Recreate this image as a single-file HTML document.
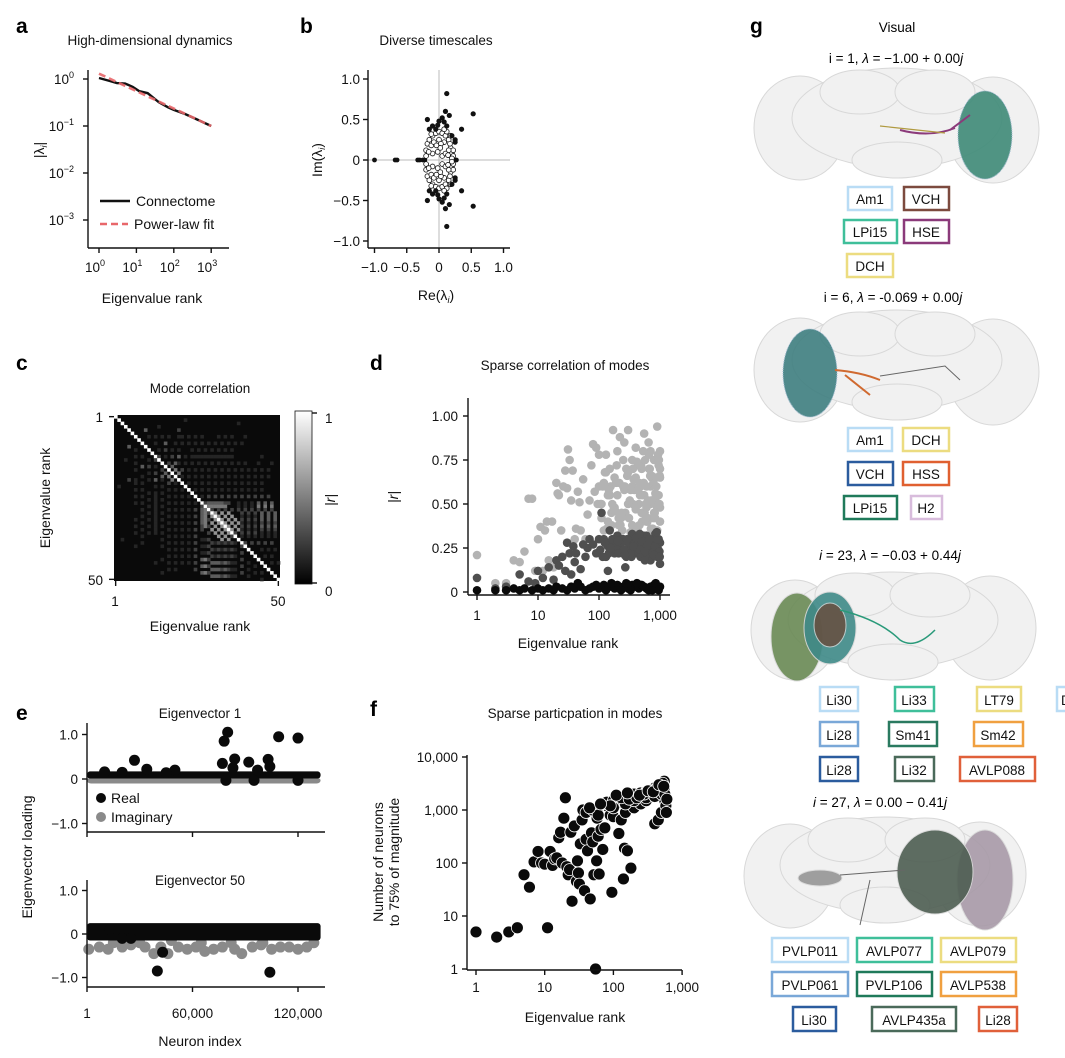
<!DOCTYPE html>
<html><head><meta charset="utf-8"><style>
html,body{margin:0;padding:0;background:#fff;}
svg{display:block;font-family:"Liberation Sans",Arial,sans-serif;}
</style></head><body>
<svg id="fig" width="1065" height="1058" viewBox="0 0 1065 1058" xmlns="http://www.w3.org/2000/svg">
<defs>
<linearGradient id="cbar" x1="0" y1="1" x2="0" y2="0"><stop offset="0" stop-color="#000"/><stop offset="1" stop-color="#fff"/></linearGradient>
</defs>
<g font-size="13.5">
<text x="750" y="33" font-size="21" font-weight="bold">g</text>
<text x="897" y="32" text-anchor="middle">Visual</text>
<text x="896" y="63" text-anchor="middle">i = 1, <tspan font-style="italic">λ</tspan> = −1.00 + 0.00<tspan font-style="italic">j</tspan></text>
<g fill="#f1f1f1" stroke="#d8d8d8" stroke-width="1">
<ellipse cx="800" cy="128" rx="46" ry="52"/><ellipse cx="993" cy="130" rx="46" ry="53"/>
<ellipse cx="897" cy="118" rx="105" ry="50"/><ellipse cx="860" cy="92" rx="40" ry="22"/><ellipse cx="935" cy="92" rx="40" ry="22"/>
<ellipse cx="897" cy="160" rx="45" ry="18"/>
<ellipse cx="985" cy="135" rx="27" ry="44" fill="#3f8b78" stroke="#9bb7cf" stroke-dasharray="1 1" opacity="0.9"/>
<path d="M900 130 Q930 138 955 128 M950 130 L970 115" stroke="#8b3a7a" stroke-width="2" fill="none"/>
<path d="M880 126 L945 133" stroke="#b09a40" stroke-width="1.2" fill="none"/>
</g>
<g fill="none" stroke-width="2.5">
<rect x="848" y="187" width="44" height="23" stroke="#b9dcf5"/><text x="870" y="204" text-anchor="middle" fill="#111" stroke="none">Am1</text>
<rect x="904" y="187" width="45" height="23" stroke="#7c4a3e"/><text x="926" y="204" text-anchor="middle" fill="#111" stroke="none">VCH</text>
<rect x="844" y="220" width="53" height="23" stroke="#3fbf9a"/><text x="870" y="237" text-anchor="middle" fill="#111" stroke="none">LPi15</text>
<rect x="904" y="220" width="45" height="23" stroke="#8b3a7a"/><text x="926" y="237" text-anchor="middle" fill="#111" stroke="none">HSE</text>
<rect x="847" y="254" width="46" height="23" stroke="#ecdc80"/><text x="870" y="271" text-anchor="middle" fill="#111" stroke="none">DCH</text>
</g>
<text x="893" y="302" text-anchor="middle">i = 6, <tspan font-style="italic">λ</tspan> = -0.069 + 0.00<tspan font-style="italic">j</tspan></text>
<g fill="#f1f1f1" stroke="#d8d8d8" stroke-width="1">
<ellipse cx="800" cy="370" rx="46" ry="52"/><ellipse cx="993" cy="372" rx="46" ry="53"/>
<ellipse cx="897" cy="360" rx="105" ry="50"/><ellipse cx="860" cy="334" rx="40" ry="22"/><ellipse cx="935" cy="334" rx="40" ry="22"/>
<ellipse cx="897" cy="402" rx="45" ry="18"/>
<ellipse cx="810" cy="373" rx="27" ry="44" fill="#3f7f80" stroke="#9bb7cf" stroke-dasharray="1 1" opacity="0.9"/>
<path d="M835 370 Q860 372 880 380 M845 375 L870 395" stroke="#d06a30" stroke-width="2" fill="none"/>
<path d="M880 376 L945 366 L960 380" stroke="#666" stroke-width="1" fill="none"/>
</g>
<g fill="none" stroke-width="2.5">
<rect x="848" y="428" width="44" height="23" stroke="#b9dcf5"/><text x="870" y="445" text-anchor="middle" fill="#111" stroke="none">Am1</text>
<rect x="903" y="428" width="46" height="23" stroke="#ecdc80"/><text x="926" y="445" text-anchor="middle" fill="#111" stroke="none">DCH</text>
<rect x="848" y="462" width="45" height="23" stroke="#2b5c9e"/><text x="870" y="479" text-anchor="middle" fill="#111" stroke="none">VCH</text>
<rect x="903" y="462" width="46" height="23" stroke="#e06030"/><text x="926" y="479" text-anchor="middle" fill="#111" stroke="none">HSS</text>
<rect x="844" y="496" width="53" height="23" stroke="#1f7a5a"/><text x="870" y="513" text-anchor="middle" fill="#111" stroke="none">LPi15</text>
<rect x="911" y="496" width="31" height="23" stroke="#d8bcdc"/><text x="926" y="513" text-anchor="middle" fill="#111" stroke="none">H2</text>
</g>
<text x="890" y="560" text-anchor="middle"><tspan font-style="italic">i</tspan> = 23, <tspan font-style="italic">λ</tspan> = −0.03 + 0.44<tspan font-style="italic">j</tspan></text>
<g fill="#f1f1f1" stroke="#d8d8d8" stroke-width="1">
<ellipse cx="795" cy="630" rx="44" ry="50"/><ellipse cx="990" cy="628" rx="46" ry="52"/>
<ellipse cx="893" cy="620" rx="105" ry="48"/><ellipse cx="855" cy="595" rx="40" ry="22"/><ellipse cx="930" cy="595" rx="40" ry="22"/>
<ellipse cx="893" cy="662" rx="45" ry="18"/>
<ellipse cx="797" cy="637" rx="26" ry="44" fill="#6a8a55" opacity="0.9"/>
<ellipse cx="830" cy="628" rx="26" ry="36" fill="#3f8a88" opacity="0.9"/>
<ellipse cx="830" cy="625" rx="16" ry="22" fill="#6a4a3a" opacity="0.8"/>
<path d="M840 610 Q880 620 900 640 Q915 650 935 630" stroke="#2a9a7a" stroke-width="1.5" fill="none"/>
</g>
<g fill="none" stroke-width="2.5">
<rect x="820" y="687" width="38" height="24" stroke="#b9dcf5"/><text x="839" y="705" text-anchor="middle" fill="#111" stroke="none">Li30</text>
<rect x="895" y="687" width="39" height="24" stroke="#3fbf9a"/><text x="914" y="705" text-anchor="middle" fill="#111" stroke="none">Li33</text>
<rect x="977" y="687" width="44" height="24" stroke="#ecdc80"/><text x="999" y="705" text-anchor="middle" fill="#111" stroke="none">LT79</text>
<rect x="1057" y="687" width="20" height="24" stroke="#b9dcf5"/><text x="1061" y="705" fill="#111" stroke="none">D</text>
<rect x="820" y="722" width="38" height="24" stroke="#7aa8d8"/><text x="839" y="740" text-anchor="middle" fill="#111" stroke="none">Li28</text>
<rect x="889" y="722" width="48" height="24" stroke="#2a7a60"/><text x="913" y="740" text-anchor="middle" fill="#111" stroke="none">Sm41</text>
<rect x="974" y="722" width="49" height="24" stroke="#f0a040"/><text x="998" y="740" text-anchor="middle" fill="#111" stroke="none">Sm42</text>
<rect x="820" y="757" width="38" height="24" stroke="#2b5c9e"/><text x="839" y="775" text-anchor="middle" fill="#111" stroke="none">Li28</text>
<rect x="895" y="757" width="39" height="24" stroke="#4a6a5a"/><text x="914" y="775" text-anchor="middle" fill="#111" stroke="none">Li32</text>
<rect x="960" y="757" width="75" height="24" stroke="#e0603a"/><text x="997" y="775" text-anchor="middle" fill="#111" stroke="none">AVLP088</text>
</g>
<text x="880" y="807" text-anchor="middle"><tspan font-style="italic">i</tspan> = 27, <tspan font-style="italic">λ</tspan> = 0.00 − 0.41<tspan font-style="italic">j</tspan></text>
<g fill="#f1f1f1" stroke="#d8d8d8" stroke-width="1">
<ellipse cx="790" cy="876" rx="46" ry="52"/><ellipse cx="980" cy="874" rx="46" ry="52"/>
<ellipse cx="885" cy="865" rx="105" ry="48"/><ellipse cx="848" cy="840" rx="40" ry="22"/><ellipse cx="925" cy="840" rx="40" ry="22"/>
<ellipse cx="885" cy="905" rx="45" ry="18"/>
<ellipse cx="985" cy="880" rx="28" ry="50" fill="#a89aa8" opacity="0.9"/>
<ellipse cx="935" cy="872" rx="38" ry="42" fill="#4e5e52" opacity="0.9"/>
<ellipse cx="820" cy="878" rx="22" ry="8" fill="#8a8a8a" opacity="0.8"/>
<path d="M840 875 L905 870 M870 880 L860 925" stroke="#666" stroke-width="1" fill="none"/>
</g>
<g fill="none" stroke-width="2.5">
<rect x="772" y="938" width="76" height="24" stroke="#b9dcf5"/><text x="810" y="956" text-anchor="middle" fill="#111" stroke="none">PVLP011</text>
<rect x="857" y="938" width="75" height="24" stroke="#3fbf9a"/><text x="894" y="956" text-anchor="middle" fill="#111" stroke="none">AVLP077</text>
<rect x="941" y="938" width="75" height="24" stroke="#ecdc80"/><text x="978" y="956" text-anchor="middle" fill="#111" stroke="none">AVLP079</text>
<rect x="772" y="972" width="76" height="24" stroke="#7aa8d8"/><text x="810" y="990" text-anchor="middle" fill="#111" stroke="none">PVLP061</text>
<rect x="857" y="972" width="75" height="24" stroke="#1f7a5a"/><text x="894" y="990" text-anchor="middle" fill="#111" stroke="none">PVLP106</text>
<rect x="941" y="972" width="75" height="24" stroke="#f0a040"/><text x="978" y="990" text-anchor="middle" fill="#111" stroke="none">AVLP538</text>
<rect x="793" y="1007" width="43" height="24" stroke="#2b5c9e"/><text x="814" y="1025" text-anchor="middle" fill="#111" stroke="none">Li30</text>
<rect x="872" y="1007" width="84" height="24" stroke="#4a6a5a"/><text x="914" y="1025" text-anchor="middle" fill="#111" stroke="none">AVLP435a</text>
<rect x="979" y="1007" width="38" height="24" stroke="#e0603a"/><text x="998" y="1025" text-anchor="middle" fill="#111" stroke="none">Li28</text>
</g>
</g>
</svg>
<script>
// ---------- DATA ----------
const aRank = [1, 2, 3, 5, 8, 12, 20, 40, 70, 100, 200, 400, 1000];
const aValue = [1.05, 0.9, 0.82, 0.8, 0.68, 0.55, 0.5, 0.32, 0.25, 0.22, 0.18, 0.14, 0.1];
const aFitRank = [1, 1000];
const aFitValue = [1.3, 0.1];
const aYTickExp = [0, -1, -2, -3];
const aXTickExp = [0, 1, 2, 3];
const bOutRe = [0.12, 0.1, 0.16, 0.53, -0.18, 0.05, 0.0, 0.08, -0.1, -0.02, 0.12, 0.35, 0.25, 0.25, -0.15, 0.2, -0.05];
const bOutIm = [0.82, 0.6, 0.55, 0.57, 0.5, 0.52, 0.48, 0.47, 0.42, 0.43, 0.42, 0.38, 0.25, 0.22, 0.38, 0.3, 0.38];
const bBulkRe = [0.18, 0.2, 0.22, 0.2, -0.2, -0.2, -0.18, -0.15, -0.1, -0.05, 0, 0.05, 0.1, 0.15, 0.17, 0.22, 0.15, -0.12, 0.08, -0.08, 0.0, 0.03, -0.02, 0.05, -0.1, 0.1, 0.12, -0.12, 0.08, 0.18, -0.16, 0.02, -0.04, 0.14];
const bBulkIm = [0.15, 0.08, 0.05, 0.02, 0.05, 0.12, 0.2, 0.25, 0.3, 0.33, 0.35, 0.33, 0.3, 0.25, 0.2, 0.12, 0.12, 0.18, 0.22, 0.22, 0.25, 0.2, 0.1, 0.05, 0.08, 0.08, 0.35, 0.32, 0.38, 0.3, 0.1, 0.15, 0.18, 0.06];
const bAxisRe = [-1, -0.68, -0.65, -0.33, -0.3, -0.25, -0.22, 0.2, 0.25, 0.27];
const bTicks = [-1, -0.5, 0, 0.5, 1];
const bTickLabels = ["−1.0", "−0.5", "0", "0.5", "1.0"];
const cRows = [
"00000000000000000000000000000000000000000000000000",
"00000000000000000000010000000000000000000000000000",
"00000000000000000000000000000000000001000000000000",
"00000000000001000000000000000000000000000000000000",
"00000000030000000002000000000000000000000000000000",
"00000000000000000000000000000000000000000000000000",
"00000000001010101001101010100001010100010000000000",
"00000000000000000000000000000000000000000000000000",
"00000000000010030010101010101010101010100000000000",
"00000000000000000000000000000000000000000000000000",
"00000000000001020101000101010101010100000000000000",
"00000000000000000000000000000000000000000000000000",
"00000000000002010203010111111111111100000000100000",
"00000000000000000000000000000000000000000000000000",
"00000000000000002031010101010101010101010001000100",
"00000000000000000300000000000000000000000000000000",
"00000000000000000040201010101010101010101010101000",
"00000000000000000004000000000000000000000000000000",
"00000000000000000000101010101010101010101010101000",
"00000000000000000000000000000000000000000000000000",
"00000000000000000000001010101010101010101010100000",
"00000000000000000000000000000000000000000000000000",
"00000000000000000000000010101010101010101010100000",
"00000000000000000000000000000000000000000000000000",
"00000000000000000000000000102020202020202020202000",
"00000000000000000000000000000000000000000000000000",
"00000000000000000000000000023333322001010103030300",
"00000000000000000000000000004444440001010104040400",
"00000000000000000000000000000202020202020202020200",
"00000000000000000000000000000050505000202020303030",
"00000000000000000000000000000005050500101010303030",
"00000000000000000000000000000000505050202020303030",
"00000000000000000000000000000000050505101010202020",
"00000000000000000000000000000000005050202020303030",
"00000000000000000000000000000000000505101010202020",
"00000000000000000000000000000000000020202020101010",
"00000000000000000000000000000000000000101010101010",
"00000000000000000000000000000000000000000000000000",
"00000000000000000000000000000000000000020202020200",
"00000000000000000000000000000000000000000000000000",
"00000000000000000000000000000000000000000000101010",
"00000000000000000000000000000000000000000000000000",
"00000000000000000000000000000000000000000000010100",
"00000000000000000000000000000000000000000000000000",
"00000000000000000000000000000000000000000000000101",
"00000000000000000000000000000000000000000000000000",
"00000000000000000000000000000000000000000000000000",
"00000000000000000000000000000000000000000000000000",
"00000000000000000000000000000000000000000000000000",
"00000000000000000000000000000000000000000000000000"
];
const dLightRank = [1,2,3,4,5,6,7,8,9,10,11,12,13,14,15,17,18,20,21,22,24,26,28,30,31,33,35,37,40,42,45,48,50,55,60,65,70,75,80,85,90,100,110,120,130,140,150,170,180,200,220,250,270,300,350,400,450,500,550,600,650,700,750,800,900,950,1000,1000,120,160,200,240,300,350,400,450,500,600,700,800,900,1000,250,150,700,850,550,350,180,280,380,480,580,680,780,880,980,130,230,330,430,530,630,730,830,930,160,260,360,460,560,660,760,860,960,
 100,110,125,140,155,175,195,215,235,260,290,320,360,400,440,490,540,600,660,730,800,870,950,1000,105,135,165,190,210,300,420,520,620,720,820,920,1000,115,145,185,225,265,310,370,430,470,510,570,640,690,770,840,900,990,95,210,330,460,590,710,830,960];
const dLightR = [0.21,0.05,0.05,0.18,0.17,0.23,0.53,0.53,0.12,0.3,0.37,0.12,0.35,0.4,0.18,0.4,0.14,0.62,0.56,0.55,0.35,0.6,0.69,0.59,0.81,0.75,0.52,0.69,0.3,0.36,0.57,0.51,0.35,0.64,0.3,0.44,0.52,0.72,0.84,0.57,0.82,0.78,0.5,0.62,0.78,0.4,0.7,0.92,0.65,0.55,0.88,0.75,0.45,0.92,0.6,0.82,0.5,0.7,0.9,0.4,0.85,0.6,0.33,0.75,0.94,0.55,0.4,0.7,0.35,0.45,0.8,0.35,0.5,0.38,0.65,0.3,0.45,0.6,0.8,0.45,0.35,0.8,0.6,0.55,0.5,0.65,0.55,0.75,0.48,0.7,0.58,0.6,0.5,0.7,0.62,0.55,0.5,0.68,0.42,0.58,0.72,0.8,0.42,0.65,0.52,0.78,0.38,0.85,0.5,0.62,0.45,0.7,0.36,0.55,0.75,0.6,
 0.42,0.68,0.55,0.6,0.48,0.72,0.62,0.45,0.58,0.66,0.52,0.7,0.47,0.58,0.72,0.62,0.48,0.78,0.66,0.52,0.6,0.72,0.65,0.5,0.36,0.5,0.62,0.38,0.68,0.74,0.55,0.4,0.52,0.45,0.55,0.48,0.6,0.58,0.46,0.38,0.6,0.42,0.64,0.35,0.55,0.4,0.75,0.52,0.66,0.42,0.56,0.48,0.66,0.5,0.42,0.34,0.38,0.42,0.36,0.42,0.5,0.62];
const dDarkRank = [1,2,3,5,7,9,10,12,15,18,20,22,25,28,30,33,35,38,40,42,45,50,55,60,65,70,80,90,100,110,120,130,140,150,170,200,220,250,270,300,350,400,450,500,550,600,650,700,800,900,1000,1000,180,280,380,480,750,850,950,160,420,620,320,140,240,340,440,540,640,740,840,940,
 105,125,145,165,190,210,235,260,290,330,370,410,460,510,570,630,690,760,830,900,980,115,155,205,265,365,465,565,665,785,885,990];
const dDarkR = [0.08,0.02,0.03,0.1,0.06,0.05,0.12,0.08,0.14,0.07,0.18,0.15,0.2,0.12,0.28,0.22,0.1,0.26,0.17,0.22,0.05,0.13,0.27,0.2,0.25,0.3,0.27,0.22,0.3,0.45,0.3,0.2,0.12,0.35,0.27,0.32,0.25,0.3,0.14,0.28,0.33,0.22,0.3,0.26,0.2,0.32,0.25,0.18,0.3,0.2,0.28,0.16,0.22,0.2,0.3,0.2,0.27,0.25,0.3,0.28,0.27,0.22,0.24,0.26,0.3,0.2,0.25,0.32,0.28,0.22,0.33,0.24,
 0.24,0.28,0.22,0.3,0.26,0.22,0.28,0.24,0.3,0.22,0.27,0.31,0.24,0.29,0.23,0.27,0.3,0.22,0.26,0.3,0.23,0.2,0.25,0.29,0.21,0.26,0.33,0.18,0.3,0.21,0.34,0.2];
const dBlackRank = [1,2,3,4,5,6,8,10,12,15,18,20,25,30,35,40,50,60,70,80,100,120,150,180,200,250,300,350,400,450,500,550,600,700,800,900,1000,130,230,330,650,750,950,45,90,160,280,420,850];
const dBlackR = [0.01,0.01,0.01,0.02,0.01,0.02,0.01,0.02,0.01,0.02,0.01,0.03,0.02,0.01,0.03,0.02,0.03,0.01,0.02,0.03,0.02,0.04,0.03,0.02,0.04,0.03,0.02,0.04,0.03,0.02,0.04,0.03,0.02,0.03,0.04,0.02,0.03,0.01,0.01,0.01,0.01,0.01,0.01,0.05,0.04,0.05,0.05,0.05,0.05];
const dYTicks = [0, 0.25, 0.5, 0.75, 1.0];
const dYTickLabels = ["0", "0.25", "0.50", "0.75", "1.00"];
const dXTicks = [1, 10, 100, 1000];
const dXTickLabels = ["1", "10", "100", "1,000"];
const e1BulkLow = -0.08, e1BulkHigh = 0.17, e1ImagLow = -0.1, e1ImagHigh = 0.03;
const e1RealIdx = [10000,27000,34000,50000,77000,78000,80000,84000,83000,92000,97000,103000,104000,109000,120000,79000,95000,120000,20000,45000];
const e1RealVal = [0.16,0.42,0.22,0.2,0.35,0.85,1.05,0.45,0.25,0.38,0.2,0.44,0.28,0.95,0.92,-0.03,-0.03,-0.03,0.15,0.14];
const e2BulkLow = -0.15, e2BulkHigh = 0.25;
const e2ImagIdx = [1000,7000,12000,20000,25000,33000,38000,42000,46000,52000,57000,62000,67000,72000,77000,84000,88000,94000,99000,105000,110000,115000,120000,125000,129000,15000,30000,48000,65000,82000,100000];
const e2ImagVal = [-0.35,-0.3,-0.35,-0.3,-0.25,-0.3,-0.45,-0.3,-0.45,-0.3,-0.35,-0.3,-0.4,-0.35,-0.3,-0.35,-0.45,-0.3,-0.25,-0.35,-0.3,-0.3,-0.35,-0.3,-0.2,-0.2,-0.2,-0.15,-0.2,-0.2,-0.2];
const e2RealIdx = [40000,43000,104000,20000,25000,13000];
const e2RealVal = [-0.85,-0.42,-0.88,-0.1,-0.1,0.1];
const eXTicks = [1, 60000, 120000];
const eXTickLabels = ["1", "60,000", "120,000"];
const fRank = [1,2,3,4,5,6,7,8,9,10,11,12,13,14,15,16,17,18,19,20,21,22,23,24,25,27,29,30,31,32,33,35,36,38,40,42,44,46,48,50,52,55,57,58,60,62,66,70,75,80,90,95,100,110,120,130,140,145,150,160,180,200,250,300,400,450,500,550,550,560,580,590,40,50,60,70,80,100,120,150,180,200,250,300,350,400,450,500,60,100,150,200,300,400,500,45,90,130,170,220,280,350,420,480,520,560,600,65,110,160,240,320,380,460,540];
const fCount = [5,4,5,6,60,35,105,165,100,95,6,165,90,120,125,300,380,100,700,1700,85,60,75,380,19,500,45,110,65,40,230,650,1000,30,280,170,950,21,370,250,60,1,110,700,320,62,430,180,460,1200,800,28,750,1300,360,650,50,190,900,170,80,1100,1300,1500,550,650,900,2500,3500,1500,1200,900,900,1000,1100,1300,1400,1500,1600,1800,1900,2000,2100,2200,2400,2600,2800,3000,800,1100,1300,1500,1700,1800,2000,1100,1200,1700,1600,1700,2000,2300,2500,2700,3200,2000,1600,1300,1900,2100,1900,2300,2200,3000,2800];
const fYTicks = [1, 10, 100, 1000, 10000];
const fYTickLabels = ["1", "10", "100", "1,000", "10,000"];
const fXTicks = [1, 10, 100, 1000];
const fXTickLabels = ["1", "10", "100", "1,000"];

// ---------- HELPERS ----------
const NS = 'http://www.w3.org/2000/svg';
const svg = document.getElementById('fig');
function mk(tag, attrs, parent) {
  const e = document.createElementNS(NS, tag);
  for (const k in attrs) e.setAttribute(k, attrs[k]);
  (parent || svg).appendChild(e);
  return e;
}
function group(name) {
  const g = mk('g', {});
  
  
  return g;
}
function label(parent, x, y, s, name, opts) {
  const t = mk('text', Object.assign({x: x, y: y, 'font-size': 13.5, fill: '#111'}, opts || {}), parent);
  t.textContent = s;
  
  
  return t;
}
function line(parent, x1, y1, x2, y2, name, opts) {
  const l = mk('line', Object.assign({x1: x1, y1: y1, x2: x2, y2: y2, stroke: '#111', 'stroke-width': 1.4}, opts || {}), parent);
  
  
  return l;
}
function dot(parent, x, y, r, fill, name, stroke) {
  if (!isFinite(x) || !isFinite(y)) return null;
  const c = mk('circle', {cx: x, cy: y, r: r, fill: fill, stroke: stroke || 'none', 'stroke-width': 0.8}, parent);
  
  
  return c;
}
function panelLetter(x, y, s) {
  const t = mk('text', {x: x, y: y, 'font-size': 21, 'font-weight': 'bold'});
  t.textContent = s;
  
  
}

// ---------- PANEL A ----------
(function () {
  const g = group('panel-a');
  panelLetter(16, 33, 'a');
  const ax = r => 99 + Math.log10(r) * 37.4;
  const ay = v => 79 - Math.log10(v) * 47;
  label(g, 150, 45, 'High-dimensional dynamics', 'panel-a-title', {'text-anchor': 'middle'});
  line(g, 88, 70, 88, 248, 'y-axis');
  line(g, 88, 248, 229, 248, 'x-axis');
  aYTickExp.forEach(e => {
    const y = ay(Math.pow(10, e));
    line(g, 83, y, 88, y, 'y-tick');
    const t = label(g, 74, y + 5, '10', 'y-tick-label', {'text-anchor': 'end'});
    const s = mk('tspan', {dy: -6, 'font-size': 9}, t); s.textContent = e === 0 ? '0' : '−' + (-e);
  });
  aXTickExp.forEach(e => {
    const x = ax(Math.pow(10, e));
    line(g, x, 248, x, 253, 'x-tick');
    const t = label(g, x - 4, 272, '10', 'x-tick-label', {'text-anchor': 'middle'});
    const s = mk('tspan', {dy: -6, 'font-size': 9}, t); s.textContent = String(e);
  });
  label(g, 152, 303, 'Eigenvalue rank', 'x-axis-title', {'text-anchor': 'middle', 'font-size': 14});
  const yl = label(g, 0, 0, '|λ', 'y-axis-title', {'font-size': 14, 'text-anchor': 'middle', transform: 'translate(44,150) rotate(-90)'});
  const sub = mk('tspan', {'font-size': 9, dy: 3, 'font-style': 'italic'}, yl); sub.textContent = 'i';
  const sub2 = mk('tspan', {dy: -3}, yl); sub2.textContent = '|';
  const conn = mk('polyline', {points: aRank.map((r, i) => ax(r) + ',' + ay(aValue[i])).join(' '), fill: 'none', stroke: '#111', 'stroke-width': 2.4}, g);
  
  
  const fit = mk('polyline', {points: aFitRank.map((r, i) => ax(r) + ',' + ay(aFitValue[i])).join(' '), fill: 'none', stroke: '#e8676a', 'stroke-width': 2.6, 'stroke-dasharray': '7 4', opacity: 0.9}, g);
  
  
  line(g, 100, 201, 130, 201, 'legend-connectome-swatch', {'stroke-width': 2.4});
  label(g, 136, 206, 'Connectome', 'legend-connectome-label', {'font-size': 14});
  line(g, 100, 224, 128, 224, 'legend-fit-swatch', {stroke: '#e8676a', 'stroke-width': 2.6, 'stroke-dasharray': '7 4'});
  label(g, 134, 229, 'Power-law fit', 'legend-fit-label', {'font-size': 14});
})();

// ---------- PANEL B ----------
(function () {
  const g = group('panel-b');
  panelLetter(300, 33, 'b');
  const bx = v => 439 + v * 64.5;
  const by = v => 160 - v * 81;
  label(g, 436, 45, 'Diverse timescales', 'panel-b-title', {'text-anchor': 'middle'});
  line(g, bx(0), 70, bx(0), 248, 'zero-vertical-line', {stroke: '#bbb', 'stroke-width': 1});
  line(g, 368, by(0), 510, by(0), 'zero-horizontal-line', {stroke: '#bbb', 'stroke-width': 1});
  line(g, 368, 70, 368, 248, 'y-axis');
  line(g, 368, 248, 510, 248, 'x-axis');
  bTicks.forEach((v, i) => {
    line(g, 363, by(v), 368, by(v), 'y-tick');
    label(g, 360, by(v) + 5, bTickLabels[i], 'y-tick-label', {'text-anchor': 'end'});
    line(g, bx(v), 248, bx(v), 253, 'x-tick');
    label(g, bx(v), 272, bTickLabels[i], 'x-tick-label', {'text-anchor': 'middle'});
  });
  const xt = label(g, 436, 300, 'Re(λ', 'x-axis-title', {'text-anchor': 'middle', 'font-size': 14});
  const xs = mk('tspan', {'font-size': 9, dy: 3, 'font-style': 'italic'}, xt); xs.textContent = 'i';
  const xs2 = mk('tspan', {dy: -3}, xt); xs2.textContent = ')';
  const yt = label(g, 0, 0, 'Im(λ', 'y-axis-title', {'text-anchor': 'middle', 'font-size': 14, transform: 'translate(322,160) rotate(-90)'});
  const ys = mk('tspan', {'font-size': 9, dy: 3, 'font-style': 'italic'}, yt); ys.textContent = 'i';
  const ys2 = mk('tspan', {dy: -3}, yt); ys2.textContent = ')';
  bAxisRe.forEach(re => dot(g, bx(re), by(0), 2.4, '#111', 'eigenvalue-point'));
  bBulkRe.forEach((re, i) => {
    dot(g, bx(re), by(bBulkIm[i]), 2.4, '#fff', 'eigenvalue-point', '#111');
    dot(g, bx(re), by(-bBulkIm[i]), 2.4, '#fff', 'eigenvalue-point', '#111');
  });
  bOutRe.forEach((re, i) => {
    dot(g, bx(re), by(bOutIm[i]), 2.6, '#111', 'eigenvalue-point');
    dot(g, bx(re), by(-bOutIm[i]), 2.6, '#111', 'eigenvalue-point');
  });
})();

// ---------- PANEL C ----------
(function () {
  const g = group('panel-c');
  panelLetter(16, 370, 'c');
  const n = cRows.length, x0 = 114, y0 = 415, size = 166, cs = size / n;
  label(g, 200, 393, 'Mode correlation', 'panel-c-title', {'text-anchor': 'middle'});
  const bg = mk('rect', {x: x0, y: y0, width: size, height: size, fill: '#0a0a0a'}, g);
  
  
  const val = (i, j) => { const c = cRows[i][j]; return c ? +c : 0; };
  for (let i = 0; i < n; i++) for (let j = 0; j < n; j++) {
    let v = i === j ? 9 : Math.max(val(i, j), val(j, i));
    if (v === 0) continue;
    const gr = Math.round(10 + v / 9 * 245);
    const cell = mk('rect', {x: x0 + j * cs, y: y0 + i * cs, width: cs + 0.3, height: cs + 0.3, fill: 'rgb(' + gr + ',' + gr + ',' + gr + ')'}, g);
    
    
  }
  line(g, 109, y0 + cs / 2, 114, y0 + cs / 2, 'y-tick');
  line(g, 109, y0 + size - cs / 2, 114, y0 + size - cs / 2, 'y-tick');
  line(g, x0 + cs / 2, y0 + size, x0 + cs / 2, y0 + size + 5, 'x-tick');
  line(g, x0 + size - cs / 2, y0 + size, x0 + size - cs / 2, y0 + size + 5, 'x-tick');
  label(g, 103, 422, '1', 'y-tick-label', {'text-anchor': 'end'});
  label(g, 103, 585, '50', 'y-tick-label', {'text-anchor': 'end'});
  label(g, 115, 606, '1', 'x-tick-label', {'text-anchor': 'middle'});
  label(g, 278, 606, '50', 'x-tick-label', {'text-anchor': 'middle'});
  label(g, 200, 631, 'Eigenvalue rank', 'x-axis-title', {'text-anchor': 'middle', 'font-size': 14});
  label(g, 0, 0, 'Eigenvalue rank', 'y-axis-title', {'text-anchor': 'middle', 'font-size': 14, transform: 'translate(50,498) rotate(-90)'});
  const cb = mk('rect', {x: 295, y: 411, width: 17, height: 173, fill: 'url(#cbar)', stroke: '#111', 'stroke-width': 0.8}, g);
  
  
  line(g, 312, 413, 317, 413, 'colorbar-tick');
  line(g, 312, 583, 317, 583, 'colorbar-tick');
  label(g, 325, 423, '1', 'colorbar-tick-label');
  label(g, 325, 596, '0', 'colorbar-tick-label');
  label(g, 0, 0, '|r|', 'colorbar-title', {'text-anchor': 'middle', 'font-size': 14, 'font-style': 'italic', transform: 'translate(335,500) rotate(-90)'});
})();

// ---------- PANEL D ----------
(function () {
  const g = group('panel-d');
  panelLetter(370, 370, 'd');
  const dx = r => 477 + Math.log10(r) * 61;
  const dy = v => 592 - v * 176;
  label(g, 565, 370, 'Sparse correlation of modes', 'panel-d-title', {'text-anchor': 'middle'});
  dLightRank.forEach((r, i) => dot(g, dx(r), dy(dLightR[i]), 4.3, '#b3b3b3', 'light-series-point'));
  dDarkRank.forEach((r, i) => dot(g, dx(r), dy(dDarkR[i]), 4.3, '#4f4f4f', 'dark-series-point'));
  dBlackRank.forEach((r, i) => dot(g, dx(r), dy(dBlackR[i]), 4.3, '#0a0a0a', 'black-series-point'));
  line(g, 468, 398, 468, 595, 'y-axis');
  line(g, 468, 595, 670, 595, 'x-axis');
  dYTicks.forEach((v, i) => {
    line(g, 463, dy(v), 468, dy(v), 'y-tick');
    label(g, 458, dy(v) + 5, dYTickLabels[i], 'y-tick-label', {'text-anchor': 'end'});
  });
  dXTicks.forEach((r, i) => {
    line(g, dx(r), 595, dx(r), 600, 'x-tick');
    label(g, dx(r), 620, dXTickLabels[i], 'x-tick-label', {'text-anchor': 'middle'});
  });
  label(g, 568, 648, 'Eigenvalue rank', 'x-axis-title', {'text-anchor': 'middle', 'font-size': 14});
  label(g, 0, 0, '|r|', 'y-axis-title', {'text-anchor': 'middle', 'font-size': 14, 'font-style': 'italic', transform: 'translate(398,497) rotate(-90)'});
})();

// ---------- PANEL E ----------
(function () {
  const g = group('panel-e');
  panelLetter(16, 720, 'e');
  const ex = n => 87 + (n - 1) / 60000 * 105.5;
  const ey1 = v => 779 - v * 44.5;
  const ey2 = v => 934 - v * 43.5;
  const xEnd = ex(130000);
  label(g, 200, 718, 'Eigenvector 1', 'top-plot-title', {'text-anchor': 'middle'});
  label(g, 200, 885, 'Eigenvector 50', 'bottom-plot-title', {'text-anchor': 'middle'});
  const im1 = mk('rect', {x: 87, y: ey1(e1ImagHigh), width: xEnd - 87 + 5, height: ey1(e1ImagLow) - ey1(e1ImagHigh), fill: '#8a8a8a', rx: 4}, g);
  
  
  const b1 = mk('rect', {x: 87, y: ey1(e1BulkHigh), width: xEnd - 87 + 5, height: ey1(e1BulkLow) - ey1(e1BulkHigh) - 4, fill: '#0a0a0a', rx: 3}, g);
  
  
  e1RealIdx.forEach((n, i) => dot(g, ex(n), ey1(e1RealVal[i]), 5.5, '#0a0a0a', 'top-real-point'));
  line(g, 87, 723, 87, 832, 'top-y-axis');
  line(g, 87, 832, 325, 832, 'top-x-axis');
  [[1, '1.0'], [0, '0'], [-1, '−1.0']].forEach(t => {
    line(g, 82, ey1(t[0]), 87, ey1(t[0]), 'top-y-tick');
    label(g, 78, ey1(t[0]) + 5, t[1], 'top-y-tick-label', {'text-anchor': 'end'});
  });
  eXTicks.forEach(n => line(g, ex(n), 832, ex(n), 837, 'top-x-tick'));
  dot(g, 101, 798, 5, '#0a0a0a', 'legend-real-marker');
  label(g, 111, 803, 'Real', 'legend-real-label', {'font-size': 14});
  dot(g, 101, 817, 5, '#8a8a8a', 'legend-imaginary-marker');
  label(g, 111, 822, 'Imaginary', 'legend-imaginary-label', {'font-size': 14});
  e2ImagIdx.forEach((n, i) => dot(g, ex(n), ey2(e2ImagVal[i]), 5.5, '#8a8a8a', 'bottom-imaginary-point'));
  const b2 = mk('rect', {x: 87, y: ey2(e2BulkHigh), width: xEnd - 87 + 5, height: ey2(e2BulkLow) - ey2(e2BulkHigh), fill: '#0a0a0a', rx: 3}, g);
  
  
  e2RealIdx.forEach((n, i) => dot(g, ex(n), ey2(e2RealVal[i]), 5.5, '#0a0a0a', 'bottom-real-point'));
  line(g, 87, 880, 87, 987, 'bottom-y-axis');
  line(g, 87, 987, 325, 987, 'bottom-x-axis');
  [[1, '1.0'], [0, '0'], [-1, '−1.0']].forEach(t => {
    line(g, 82, ey2(t[0]), 87, ey2(t[0]), 'bottom-y-tick');
    label(g, 78, ey2(t[0]) + 5, t[1], 'bottom-y-tick-label', {'text-anchor': 'end'});
  });
  eXTicks.forEach((n, i) => {
    line(g, ex(n), 987, ex(n), 992, 'bottom-x-tick');
    label(g, ex(n), 1018, eXTickLabels[i], 'x-tick-label', {'text-anchor': 'middle'});
  });
  label(g, 200, 1046, 'Neuron index', 'x-axis-title', {'text-anchor': 'middle', 'font-size': 14});
  label(g, 0, 0, 'Eigenvector loading', 'y-axis-title', {'text-anchor': 'middle', 'font-size': 14, transform: 'translate(32,857) rotate(-90)'});
})();

// ---------- PANEL F ----------
(function () {
  const g = group('panel-f');
  panelLetter(370, 716, 'f');
  const fx = r => 476 + Math.log10(r) * 68.7;
  const fy = v => 969 - Math.log10(v) * 53;
  label(g, 575, 718, 'Sparse particpation in modes', 'panel-f-title', {'text-anchor': 'middle'});
  fRank.forEach((r, i) => dot(g, fx(r), fy(fCount[i]), 6, '#0a0a0a', 'participation-point', '#fff'));
  line(g, 467, 755, 467, 970, 'y-axis');
  line(g, 467, 970, 682, 970, 'x-axis');
  fYTicks.forEach((v, i) => {
    line(g, 462, fy(v), 467, fy(v), 'y-tick');
    label(g, 458, fy(v) + 5, fYTickLabels[i], 'y-tick-label', {'text-anchor': 'end'});
  });
  fXTicks.forEach((r, i) => {
    line(g, fx(r), 970, fx(r), 975, 'x-tick');
    label(g, fx(r), 992, fXTickLabels[i], 'x-tick-label', {'text-anchor': 'middle'});
  });
  label(g, 575, 1022, 'Eigenvalue rank', 'x-axis-title', {'text-anchor': 'middle', 'font-size': 14});
  label(g, 0, 0, 'Number of neurons', 'y-axis-title-line1', {'text-anchor': 'middle', 'font-size': 14, transform: 'translate(383,862) rotate(-90)'});
  label(g, 0, 0, 'to 75% of magnitude', 'y-axis-title-line2', {'text-anchor': 'middle', 'font-size': 14, transform: 'translate(399,862) rotate(-90)'});
})();
</script>
</body></html>
